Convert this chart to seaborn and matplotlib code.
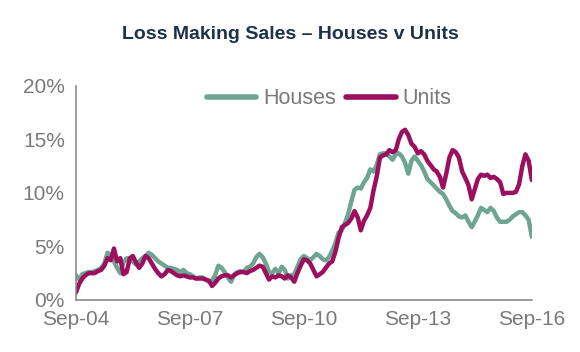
import pandas as pd
import seaborn as sns
import matplotlib.pyplot as plt
import matplotlib.dates as mdates

sns.set_style("white")
plt.rcParams['font.family'] = ['Liberation Sans', 'DejaVu Sans']

# Monthly share of loss making sales (%), Sep-04 .. Sep-16
months = pd.date_range("2004-09-01", periods=145, freq="MS")

houses = [
    2.3, 1.9, 2.4, 2.5, 2.6, 2.6, 2.7, 2.8, 3.0, 3.4, 4.4, 4.2,
    3.6, 3.0, 2.5, 3.5, 3.9, 3.8, 3.6, 3.3, 3.6, 3.9, 4.1, 4.4,
    4.2, 3.9, 3.6, 3.4, 3.2, 3.0, 3.0, 2.9, 2.8, 2.6, 2.8, 2.5,
    2.4, 2.2, 2.0, 2.1, 2.1, 1.9, 1.7, 1.8, 2.3, 3.2, 3.0, 2.6,
    2.1, 1.7, 2.4, 2.6, 2.7, 2.6, 3.0, 3.1, 3.4, 4.0, 4.3, 4.0,
    3.4, 2.6, 2.5, 2.9, 2.5, 3.1, 2.8, 2.0, 2.3, 2.4, 3.1, 3.8,
    4.1, 3.9, 3.7, 4.0, 4.3, 4.1, 3.8, 3.7, 4.0, 4.6, 5.3, 6.3,
    6.5, 7.2, 8.0, 9.2, 10.3, 10.5, 10.4, 11.0, 11.4, 12.2, 12.0, 12.6,
    13.6, 13.7, 13.7, 13.4, 13.1, 13.6, 13.7, 13.4, 12.8, 11.8, 13.0, 13.4,
    13.0, 12.6, 12.0, 11.3, 11.0, 10.7, 10.4, 10.1, 9.9, 9.4, 8.8, 8.3,
    8.1, 7.8, 7.7, 7.9, 7.3, 6.8, 7.3, 7.9, 8.6, 8.4, 8.2, 8.6,
    8.3, 7.7, 7.3, 7.3, 7.3, 7.5, 7.8, 8.0, 8.2, 8.2, 7.9, 7.5,
    5.9,
]

units = [
    0.7, 1.5, 2.0, 2.3, 2.5, 2.5, 2.5, 2.7, 2.8, 3.2, 3.9, 3.7,
    4.8, 3.6, 3.9, 2.4, 2.6, 3.9, 4.1, 3.5, 3.0, 3.4, 4.1, 3.9,
    3.4, 2.9, 2.5, 2.2, 2.4, 2.8, 2.7, 2.5, 2.3, 2.2, 2.3, 2.2,
    2.1, 2.1, 2.0, 2.0, 2.0, 1.9, 1.8, 1.3, 1.6, 2.0, 2.2, 2.3,
    2.3, 2.1, 2.3, 2.5, 2.6, 2.6, 2.5, 2.7, 2.8, 3.0, 3.2, 3.1,
    2.5, 1.9, 2.2, 2.1, 2.3, 2.2, 2.0, 2.3, 2.1, 1.7, 2.5, 3.2,
    3.8, 3.7, 3.4, 2.8, 2.2, 2.4, 2.6, 3.0, 3.4, 3.6, 4.5, 5.8,
    6.8, 7.0, 7.2, 7.6, 8.3, 7.7, 6.5, 7.4, 7.9, 8.6, 10.2, 11.5,
    13.3, 13.5, 13.6, 14.0, 13.8, 14.0, 15.0, 15.7, 15.9, 15.4, 14.6, 14.3,
    13.7, 13.9, 13.6, 13.0, 12.6, 12.2, 12.0, 11.5, 10.5, 11.8, 13.3, 14.0,
    13.8, 13.3, 12.0, 11.4, 10.7, 9.4, 10.3, 11.3, 11.7, 11.6, 11.7, 11.4,
    11.5, 11.3, 11.0, 9.9, 10.0, 10.0, 10.0, 10.1, 10.8, 12.5, 13.6, 13.0,
    11.2,
]

df = pd.DataFrame({"Month": months, "Houses": houses, "Units": units})
df_long = df.melt(id_vars="Month", var_name="Type", value_name="Share")

palette = {"Houses": "#6da592", "Units": "#9c0f5f"}

fig = plt.figure(figsize=(5.8, 3.52), dpi=100)
ax = fig.add_axes([0.131, 0.148, 0.786, 0.608])

sns.lineplot(data=df_long, x="Month", y="Share", hue="Type",
             palette=palette, linewidth=3.2, ax=ax)

# Axis ranges and ticks (every three years, September)
ax.set_xlim(months[0], months[-1])
ax.set_ylim(0, 20)
ax.set_yticks([0, 5, 10, 15, 20])
ax.set_yticklabels(["0%", "5%", "10%", "15%", "20%"])
ax.set_xticks(months[::36])
ax.xaxis.set_major_formatter(mdates.DateFormatter("%b-%y"))
ax.set_xlabel("")
ax.set_ylabel("")

for side in ["top", "right"]:
    ax.spines[side].set_visible(False)
for side in ["left", "bottom"]:
    ax.spines[side].set_color("#8c8c8c")
    ax.spines[side].set_linewidth(1.2)

ax.tick_params(axis="y", direction="out", length=6, width=1.2,
               color="#8c8c8c", labelcolor="#7a7a7a", labelsize=15, pad=2)
ax.tick_params(axis="x", direction="inout", length=7, width=1.2,
               color="#8c8c8c", labelcolor="#7a7a7a", labelsize=15, pad=4)

# Legend
leg = ax.legend(loc="center", bbox_to_anchor=(0.555, 0.94), ncol=2,
                frameon=False, fontsize=15.5, handlelength=2.3,
                handletextpad=0.3, columnspacing=0.5, borderpad=0)
for txt in leg.get_texts():
    txt.set_color("#7a7a7a")
for line in leg.get_lines():
    line.set_linewidth(4)

fig.suptitle("Loss Making Sales \u2013 Houses v Units", x=0.5, y=0.925,
             fontsize=14, fontweight="bold", color="#1d3349")

fig.savefig("out.png", dpi=100)
